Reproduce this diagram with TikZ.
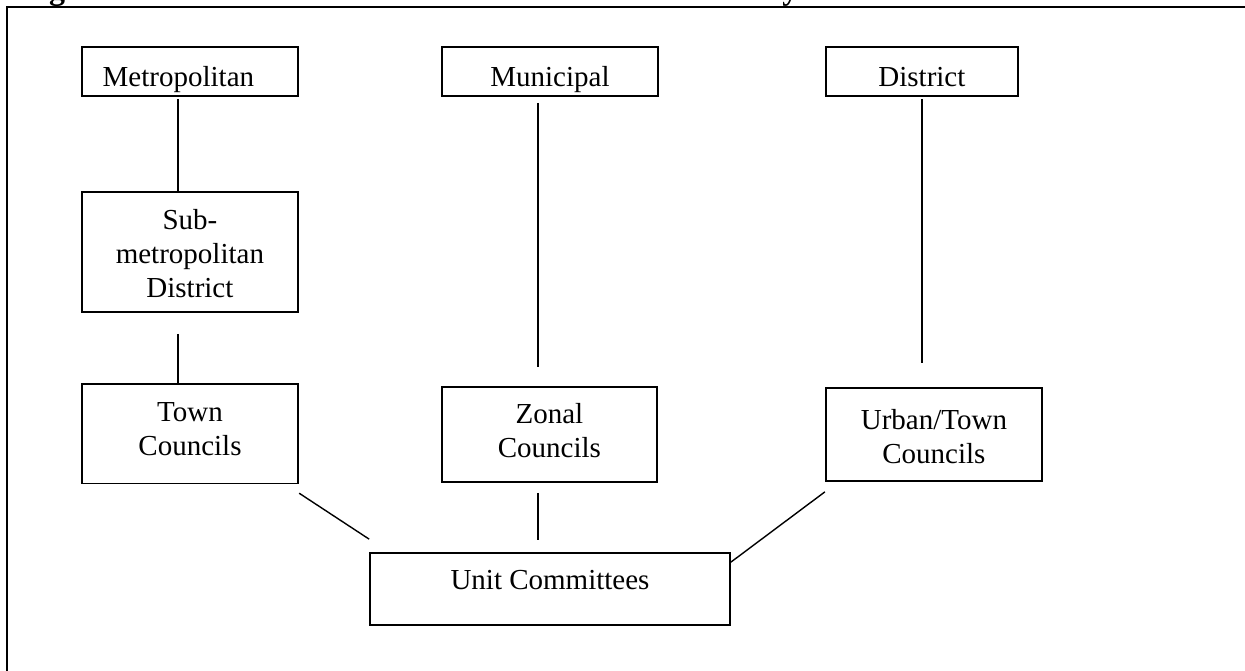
\documentclass[tikz,border=0pt]{standalone}
\usepackage{fontspec}
\setmainfont{Liberation Serif}
\usetikzlibrary{calc}
\newcommand\liftbox[2]{\raisebox{#1}[\height][\depth]{#2}}
\newcommand\boxtext[2]{\liftbox{#1}{\begin{tabular}{@{}c@{}}#2\end{tabular}}}
\begin{document}
\begin{tikzpicture}[x=1pt,y=-1pt,
  orgbox/.style={draw, line width=1.7pt, inner sep=0pt, font=\fontsize{29}{34}\selectfont},
  link/.style={line width=1.4pt},
  frame/.style={line width=2.2pt}]
\useasboundingbox (0,0) rectangle (1245,671);

% title (mostly cut off by the top edge, as in the reference)
\node[anchor=base west, inner sep=0pt, font=\bfseries\fontsize{32}{36}\selectfont] (title) at (20.6,0) {Figure 1: Structure of the Current Local Government System};

% outer frame
\coordinate (fbl) at (7,673);
\coordinate (ftl) at (7,7);
\coordinate (ftr) at (1247,7);
\draw[frame] (fbl) -- (ftl) -- (ftr);

% boxes
\node[orgbox, minimum width=216.3, minimum height=48.4] (met) at (189.9,71.5) {\boxtext{-8.7pt}{Metropolitan}\hspace*{23pt}};
\node[orgbox, minimum width=216.6, minimum height=48.4] (mun) at (550,71.5) {\boxtext{-8.7pt}{Municipal}};
\node[orgbox, minimum width=192.3, minimum height=48.4] (dis) at (921.9,71.5) {\boxtext{-8.7pt}{District}};
\node[orgbox, minimum width=216.3, minimum height=120] (sub) at (189.9,251.7) {\boxtext{-5pt}{Sub-\\metropolitan\\District}};
\node[orgbox, minimum width=216.6, minimum height=99.3] (town) at (190,433.7) {\boxtext{2.5pt}{Town\\Councils}};
\node[orgbox, minimum width=215.3, minimum height=95] (zon) at (549.4,434.5) {\boxtext{1pt}{Zonal\\Councils}};
\node[orgbox, minimum width=216.3, minimum height=93] (urb) at (933.9,434.5) {\boxtext{-4.7pt}{Urban/Town\\Councils}};
\node[orgbox, minimum width=360, minimum height=72] (unit) at (550,589) {\boxtext{6.8pt}{Unit Committees}};

% connectors
\draw[link, shorten <=2.3pt] ([xshift=-12pt]met.south) -- ([xshift=-12pt]met.south |- sub.north);
\draw[link, shorten <=21.3pt] ([xshift=-12pt]sub.south) -- ([xshift=-12pt]sub.south |- town.north);
\draw[link, shorten <=6.3pt, shorten >=19pt] ([xshift=-12pt]mun.south) -- ([xshift=-12pt]mun.south |- zon.north);
\draw[link, shorten <=2.3pt, shorten >=24pt] (dis.south) -- (dis.south |- urb.north);
\draw[link] ([yshift=-9pt]town.south east) -- ([yshift=13pt]unit.north west);
\draw[link, shorten <=10pt, shorten >=12pt] ([xshift=-11.4pt]zon.south) -- ([xshift=-11.4pt]zon.south |- unit.north);
\draw[link] ([yshift=-10pt]unit.north east) -- ([yshift=-10pt]urb.south west);
\end{tikzpicture}
\end{document}
